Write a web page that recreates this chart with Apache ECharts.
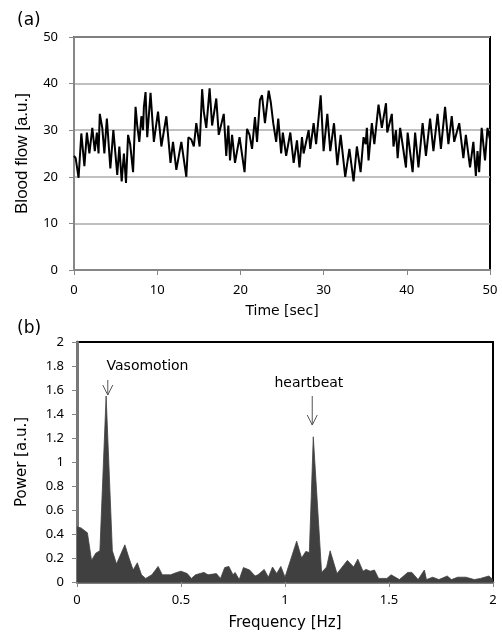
<!DOCTYPE html>
<html>
<head>
<meta charset="utf-8">
<script src="https://cdn.jsdelivr.net/npm/echarts@6/dist/echarts.min.js"></script>
<style>
html,body{margin:0;padding:0;background:#fff;}
#chart{width:502px;height:634px;}
</style>
</head>
<body>
<div id="chart"></div>
<script>
// ---- Panel (a): blood flow time series ----
const timeSec = [0.0,0.2,0.55,0.88,1.25,1.55,1.85,2.2,2.5,2.75,2.95,3.1,3.4,3.65,3.95,4.37,4.73,5.2,5.45,5.73,6.0,6.25,6.5,6.75,7.1,7.4,7.6,7.85,8.1,8.3,8.4,8.6,8.8,9.2,9.6,10.1,10.5,11.1,11.6,11.9,12.3,12.9,13.5,13.75,14.1,14.4,14.7,15.1,15.4,15.6,15.9,16.3,16.6,17.1,17.4,18.0,18.3,18.55,18.75,19.0,19.35,19.9,20.5,20.8,21.1,21.4,21.75,22.0,22.35,22.6,22.95,23.4,23.65,23.95,24.3,24.55,24.9,25.1,25.5,26.0,26.4,26.8,27.1,27.4,27.6,28.2,28.4,28.8,29.1,29.65,30.0,30.45,30.8,31.25,31.65,32.05,32.6,33.1,33.6,34.0,34.45,34.8,35.05,35.2,35.4,35.8,36.1,36.6,37.0,37.5,37.65,38.2,38.4,38.7,38.9,39.2,39.9,40.1,40.7,41.0,41.4,41.9,42.3,42.8,43.2,43.7,44.1,44.6,45.0,45.4,45.7,46.3,46.8,47.1,47.6,48.0,48.3,48.5,48.7,49.0,49.4,49.7,50.0];
const bloodFlow = [24.5,24.0,19.8,29.3,22.3,29.5,25.0,30.5,25.5,29.5,25.0,33.5,30.5,25.0,32.5,21.8,30.0,20.4,26.5,19.0,25.0,18.7,29.0,27.0,21.0,35.0,31.0,27.5,33.0,30.0,35.0,38.2,28.5,38.0,27.5,34.0,26.5,33.0,23.0,27.5,21.5,27.5,20.0,28.5,28.0,26.5,31.5,26.5,38.8,34.0,30.5,39.0,31.0,36.8,29.0,33.5,24.5,31.0,23.5,29.0,23.0,28.5,21.0,30.3,29.0,26.0,32.8,27.5,36.5,37.5,31.5,38.5,36.0,31.5,27.5,32.5,25.0,29.5,24.5,29.5,23.0,27.8,22.0,28.5,25.0,30.0,26.0,31.5,27.0,37.5,25.5,33.5,25.5,31.5,22.5,29.0,20.0,26.0,19.0,26.5,21.0,28.5,27.0,30.5,23.5,31.5,27.0,35.5,30.5,35.8,29.5,33.5,26.5,30.0,24.0,30.5,22.0,29.5,21.0,29.5,22.0,31.5,24.5,32.5,25.5,33.5,26.0,35.0,27.0,33.0,27.5,31.5,24.0,29.0,22.0,27.5,20.2,25.5,21.0,30.5,23.5,30.5,28.0];
const timeTicks = [0, 10, 20, 30, 40, 50];
const flowTicks = [0, 10, 20, 30, 40, 50];

// ---- Panel (b): power spectrum ----
const freqHz = [0,0.02,0.05,0.07,0.09,0.11,0.14,0.17,0.19,0.23,0.25,0.27,0.29,0.31,0.33,0.36,0.39,0.41,0.45,0.48,0.5,0.53,0.55,0.57,0.61,0.63,0.67,0.69,0.71,0.73,0.75,0.76,0.78,0.80,0.83,0.856,0.87,0.90,0.92,0.94,0.96,0.98,1.0,1.056,1.08,1.10,1.117,1.136,1.176,1.2,1.217,1.25,1.30,1.33,1.35,1.375,1.39,1.41,1.43,1.45,1.49,1.51,1.55,1.59,1.61,1.64,1.67,1.68,1.71,1.74,1.78,1.80,1.83,1.87,1.91,1.94,1.98,2.0];
const power = [0.46,0.45,0.41,0.18,0.24,0.26,1.55,0.26,0.15,0.31,0.20,0.10,0.16,0.06,0.03,0.06,0.13,0.06,0.06,0.08,0.09,0.07,0.03,0.06,0.08,0.06,0.07,0.03,0.12,0.13,0.06,0.08,0.02,0.12,0.10,0.05,0.06,0.105,0.04,0.125,0.07,0.13,0.04,0.34,0.20,0.255,0.245,1.21,0.08,0.125,0.26,0.07,0.18,0.125,0.19,0.09,0.105,0.09,0.10,0.03,0.03,0.06,0.02,0.08,0.08,0.02,0.10,0.02,0.04,0.02,0.05,0.02,0.04,0.04,0.02,0.03,0.05,0.02];
const freqTicks = [0, 0.5, 1, 1.5, 2];
const powerTicks = [0, 0.2, 0.4, 0.6, 0.8, 1, 1.2, 1.4, 1.6, 1.8, 2];

// ---- annotations (data coordinates) ----
const annoText = ['Vasomotion', 'heartbeat'];
const annoArrowX = [0.148, 1.131];
const annoArrowTop = [1.683, 1.55];
const annoArrowTip = [1.558, 1.308];
const annoTextX = [0.339, 1.115];
const annoTextY = [1.80, 1.656];

const tickFont = 'Noto Sans';
const titleFont = 'DejaVu Sans';

const chart = echarts.init(document.getElementById('chart'), null, {renderer: 'canvas'});

const annoData = annoText.map((t, i) => [annoArrowX[i], annoArrowTop[i], annoArrowTip[i], annoTextX[i], annoTextY[i], t]);

function stepOf(ticks){ return ticks[1] - ticks[0]; }

const option = {
  backgroundColor: '#fff',
  animation: false,
  title: [
    {text: '(a)', left: 12, top: 7, textStyle: {fontFamily: titleFont, fontWeight: 'normal', fontSize: 17, color: '#000'}},
    {text: '(b)', left: 12, top: 315, textStyle: {fontFamily: titleFont, fontWeight: 'normal', fontSize: 17, color: '#000'}}
  ],
  grid: [
    {left: 74, top: 37, width: 416, height: 233, show: true, borderColor: '#000', borderWidth: 2, backgroundColor: 'transparent', z: 0},
    {left: 77, top: 342, width: 416, height: 240, show: true, borderColor: '#000', borderWidth: 2, backgroundColor: 'transparent', z: 0}
  ],
  xAxis: [
    {
      gridIndex: 0, type: 'value', min: timeTicks[0], max: timeTicks[timeTicks.length-1], interval: stepOf(timeTicks),
      z: 1,
      axisLine: {show: true, onZero: false, lineStyle: {color: '#868686', width: 2}},
      axisTick: {show: true, inside: false, length: 5, lineStyle: {color: '#868686', width: 1}},
      axisLabel: {margin: 14, fontFamily: tickFont, fontSize: 13, color: '#000'},
      splitLine: {show: false},
      name: 'Time [sec]', nameLocation: 'middle', nameGap: 34,
      nameTextStyle: {fontFamily: titleFont, fontSize: 14, color: '#000'}
    },
    {
      gridIndex: 1, type: 'value', min: freqTicks[0], max: freqTicks[freqTicks.length-1], interval: stepOf(freqTicks),
      z: 1,
      axisLine: {show: true, onZero: false, lineStyle: {color: '#555', width: 2.5}},
      axisTick: {show: true, inside: false, length: 5, lineStyle: {color: '#868686', width: 1}},
      axisLabel: {margin: 12, fontFamily: tickFont, fontSize: 13, color: '#000'},
      splitLine: {show: false},
      name: 'Frequency [Hz]', nameLocation: 'middle', nameGap: 34,
      nameTextStyle: {fontFamily: titleFont, fontSize: 15, color: '#000'}
    }
  ],
  yAxis: [
    {
      gridIndex: 0, type: 'value', min: flowTicks[0], max: flowTicks[flowTicks.length-1], interval: stepOf(flowTicks),
      z: 1,
      axisLine: {show: true, onZero: false, lineStyle: {color: '#868686', width: 2}},
      axisTick: {show: true, inside: false, length: 5, lineStyle: {color: '#868686', width: 1}},
      axisLabel: {margin: 16, fontFamily: tickFont, fontSize: 13, color: '#000'},
      splitLine: {show: true, lineStyle: {color: '#ababab', width: 1.5}},
      name: 'Blood flow [a.u.]', nameLocation: 'middle', nameGap: 43,
      nameTextStyle: {fontFamily: 'Liberation Sans', fontSize: 17, color: '#000'}
    },
    {
      gridIndex: 1, type: 'value', min: powerTicks[0], max: powerTicks[powerTicks.length-1], interval: stepOf(powerTicks),
      z: 1,
      axisLine: {show: true, onZero: false, lineStyle: {color: '#777', width: 3}},
      axisTick: {show: true, inside: false, length: 5, lineStyle: {color: '#868686', width: 1}},
      axisLabel: {margin: 13, fontFamily: tickFont, fontSize: 13, color: '#000'},
      splitLine: {show: false},
      name: 'Power [a.u.]', nameLocation: 'middle', nameGap: 47,
      nameTextStyle: {fontFamily: titleFont, fontSize: 15, color: '#000'}
    }
  ],
  series: [
    {
      type: 'line', xAxisIndex: 0, yAxisIndex: 0, showSymbol: false, symbol: 'none',
      data: timeSec.map((t, i) => [t, bloodFlow[i]]),
      lineStyle: {color: '#000', width: 2}, z: 3
    },
    {
      type: 'line', xAxisIndex: 1, yAxisIndex: 1, showSymbol: false, symbol: 'none',
      data: freqHz.map((f, i) => [f, power[i]]),
      lineStyle: {color: '#404040', width: 0.8},
      areaStyle: {color: '#404040', opacity: 1}, z: 3
    },
    {
      type: 'custom', xAxisIndex: 1, yAxisIndex: 1, z: 4, silent: true,
      data: annoData,
      renderItem: function (params, api) {
        const top = api.coord([api.value(0), api.value(1)]);
        const tip = api.coord([api.value(0), api.value(2)]);
        const txt = api.coord([api.value(3), api.value(4)]);
        const style = {stroke: '#555', lineWidth: 1, fill: null};
        return {
          type: 'group',
          children: [
            {type: 'line', shape: {x1: top[0], y1: top[1], x2: tip[0], y2: tip[1]}, style: style},
            {type: 'polyline', shape: {points: [[tip[0]-5, tip[1]-10], [tip[0], tip[1]], [tip[0]+5, tip[1]-10]]}, style: style},
            {type: 'text', style: {x: txt[0], y: txt[1], text: annoText[params.dataIndex], fontFamily: titleFont, fontSize: 14, fill: '#000', align: 'center', verticalAlign: 'middle'}}
          ]
        };
      }
    }
  ]
};
chart.setOption(option);
</script>
</body>
</html>
